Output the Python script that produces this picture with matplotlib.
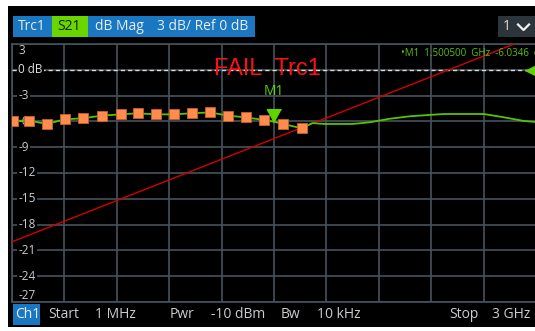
import matplotlib
matplotlib.use("Agg")
import matplotlib.pyplot as plt
from matplotlib.patches import Rectangle
from matplotlib.lines import Line2D
from matplotlib import font_manager
import matplotlib.transforms as mtransforms

W, H = 535, 331

# S21 trace, GHz / dB (points with the orange symbols)
marker_f = [0.006, 0.097, 0.200, 0.303, 0.406, 0.515, 0.624, 0.721, 0.824,
            0.927, 1.031, 1.134, 1.237, 1.340, 1.443, 1.552, 1.660]
marker_db = [-5.95, -5.90, -6.30, -5.76, -5.64, -5.33, -5.18, -5.06, -5.18,
             -5.18, -5.06, -4.95, -5.33, -5.53, -5.84, -6.30, -6.80]
# rest of the sweep
tail_f = [1.72, 1.79, 1.95, 2.05, 2.16, 2.28, 2.47, 2.70, 2.81, 2.93, 3.0]
tail_db = [-6.2, -6.3, -6.3, -6.1, -5.7, -5.4, -5.14, -5.14, -5.5, -5.95, -6.07]

# marker M1
m1_f, m1_db = 1.5005, -6.0346

# limit line
limit_f = [0.001, 3.0]
limit_db = [-20.0, 4.0]

f_start, f_stop = 0.001, 3.0
y_ticks = [3, 0, -3, -6, -9, -12, -15, -18, -21, -24, -27]
y_labels = ["3", "0 dB", "-3", "-6", "-9", "-12", "-15", "-18", "-21", "-24", "-27"]

GRID = "#46525d"
GREEN = "#55c400"
ORANGE = "#ff8c4c"
BLUE = "#1a78c2"
TXT = "#c9ccd0"
FONT = ["Open Sans", "DejaVu Sans"]

plt.rcParams["font.family"] = FONT

# narrow face for the limit-check banner, if present
try:
    font_manager.findfont("Liberation Sans Narrow", fallback_to_default=False)
    FAIL_FONT, FAIL_SIZE = "Liberation Sans Narrow", 20
except ValueError:
    FAIL_FONT, FAIL_SIZE = "Liberation Sans", 17


def fx(x):
    return x / W


def fy(y):
    return 1 - y / H


fig = plt.figure(figsize=(W / 100, H / 100), dpi=100, facecolor="white")

# black instrument screen
fig.patches.append(Rectangle((fx(8), fy(327)), fx(535 - 8), (327 - 6) / H,
                             transform=fig.transFigure, facecolor="black",
                             edgecolor="none", zorder=-1))

ax = fig.add_axes([fx(12), fy(302), 524 / W, 258 / H])
ax.set_facecolor("black")
ax.set_xlim(f_start, f_stop)
ax.set_ylim(-27, 3)
ax.set_xticks([f_start + i * (f_stop - f_start) / 10 for i in range(11)])
ax.set_yticks(y_ticks)
ax.tick_params(length=0, labelleft=False, labelbottom=False)
ax.grid(True, color=GRID, linewidth=1.2)
for sp in ax.spines.values():
    sp.set_color(GRID)
    sp.set_linewidth(1.2)

# reference line 0 dB
ax.axhline(0, color="#d8d8d8", linewidth=1.0, dashes=(3, 2.2), zorder=3)

# y labels on black background
trans = mtransforms.blended_transform_factory(ax.transAxes, ax.transData)
for v, lab in zip(y_ticks, y_labels):
    va = "center"
    if v == 3:
        va = "top"
    elif v == -27:
        va = "bottom"
    t = ax.text(0.012, v, lab, transform=trans, ha="left", va=va, fontsize=8.5,
                color="#e0e0e0" if v == 0 else TXT, zorder=4)
    if va == "center":
        t.set_bbox(dict(facecolor="black", edgecolor="none", pad=1.2))

# limit line
ax.plot(limit_f, limit_db, color="#d40000", linewidth=1.0, zorder=5)

# trace
trace_f = marker_f[:15] + [m1_f] + marker_f[15:] + tail_f
trace_db = marker_db[:15] + [m1_db] + marker_db[15:] + tail_db
ax.plot(trace_f, trace_db, color=GREEN, linewidth=1.3, zorder=6)
ax.plot(marker_f, marker_db, linestyle="none", marker="s", markersize=6.5,
        markerfacecolor=ORANGE, markeredgecolor="#c8602a", markeredgewidth=0.6,
        zorder=7)

# M1 marker symbol, tip on the trace
ax.plot(m1_f, m1_db, linestyle="none", marker=[(0, 0), (-0.55, 1), (0.55, 1)],
        markersize=18.5, color="#5fd400", zorder=8)
ax.annotate("M1", (m1_f, m1_db), xytext=(0, 16), textcoords="offset points",
            ha="center", va="bottom", fontsize=10, color="#5fd400", zorder=8)

# reference level arrow at right edge
ax.plot(2.937, 0, linestyle="none", marker=[(0, 0), (1, -0.5), (1, 0.5)],
        markersize=14.4, color="#5fd400", clip_on=False, zorder=8)

# marker readout
fig.text(fx(401), fy(53), "•M1  1.500500  GHz  -6.0346  dB", fontsize=7,
         color="#5cc000", ha="left", va="center")

# limit check result
fig.text(fx(214), fy(75), "FAIL  Trc1", fontsize=FAIL_SIZE, color="#ff1010",
         ha="left", va="baseline", family=[FAIL_FONT, "DejaVu Sans"])

# header bar
fig.patches.append(Rectangle((fx(13), fy(37)), fx(255 - 13), 21 / H,
                             transform=fig.transFigure, facecolor=BLUE,
                             edgecolor="none", zorder=1))
fig.patches.append(Rectangle((fx(52), fy(37)), fx(88 - 52), 21 / H,
                             transform=fig.transFigure, facecolor="#6ad600",
                             edgecolor="none", zorder=1))
fig.text(fx(18), fy(27), "Trc1", fontsize=10, color="#e8ecf0", va="center")
fig.text(fx(57), fy(27), "S21", fontsize=10, color="#102000", va="center")
fig.text(fx(95), fy(27), "dB Mag", fontsize=10, color="#e8ecf0", va="center")
fig.text(fx(157), fy(27), "3 dB/ Ref 0 dB", fontsize=10, color="#e8ecf0", va="center")

# channel selector
fig.patches.append(Rectangle((fx(498), fy(37)), fx(535 - 498), 21 / H,
                             transform=fig.transFigure, facecolor="#2c343c",
                             edgecolor="none", zorder=1))
fig.text(fx(503), fy(27), "1", fontsize=10, color="#e6d8c8", va="center")
fig.lines.append(Line2D([fx(518), fx(523.5), fx(529)], [fy(24.5), fy(30), fy(24.5)],
                        transform=fig.transFigure, color="#f0f0f0", linewidth=1.6))

# channel bar
fig.patches.append(Rectangle((fx(13), fy(325)), fx(40 - 13), 21 / H,
                             transform=fig.transFigure, facecolor=BLUE,
                             edgecolor="none", zorder=1))
for x, s in [(15, "Ch1"), (48, "Start"), (95, "1 MHz"), (170, "Pwr"),
             (211, "-10 dBm"), (281, "Bw"), (317, "10 kHz"), (449, "Stop"),
             (492, "3 GHz")]:
    fig.text(fx(x), fy(315), s, fontsize=10, color="#e8ecf0" if s == "Ch1" else TXT,
             va="center")

fig.savefig("out.png", dpi=100, facecolor="white")
